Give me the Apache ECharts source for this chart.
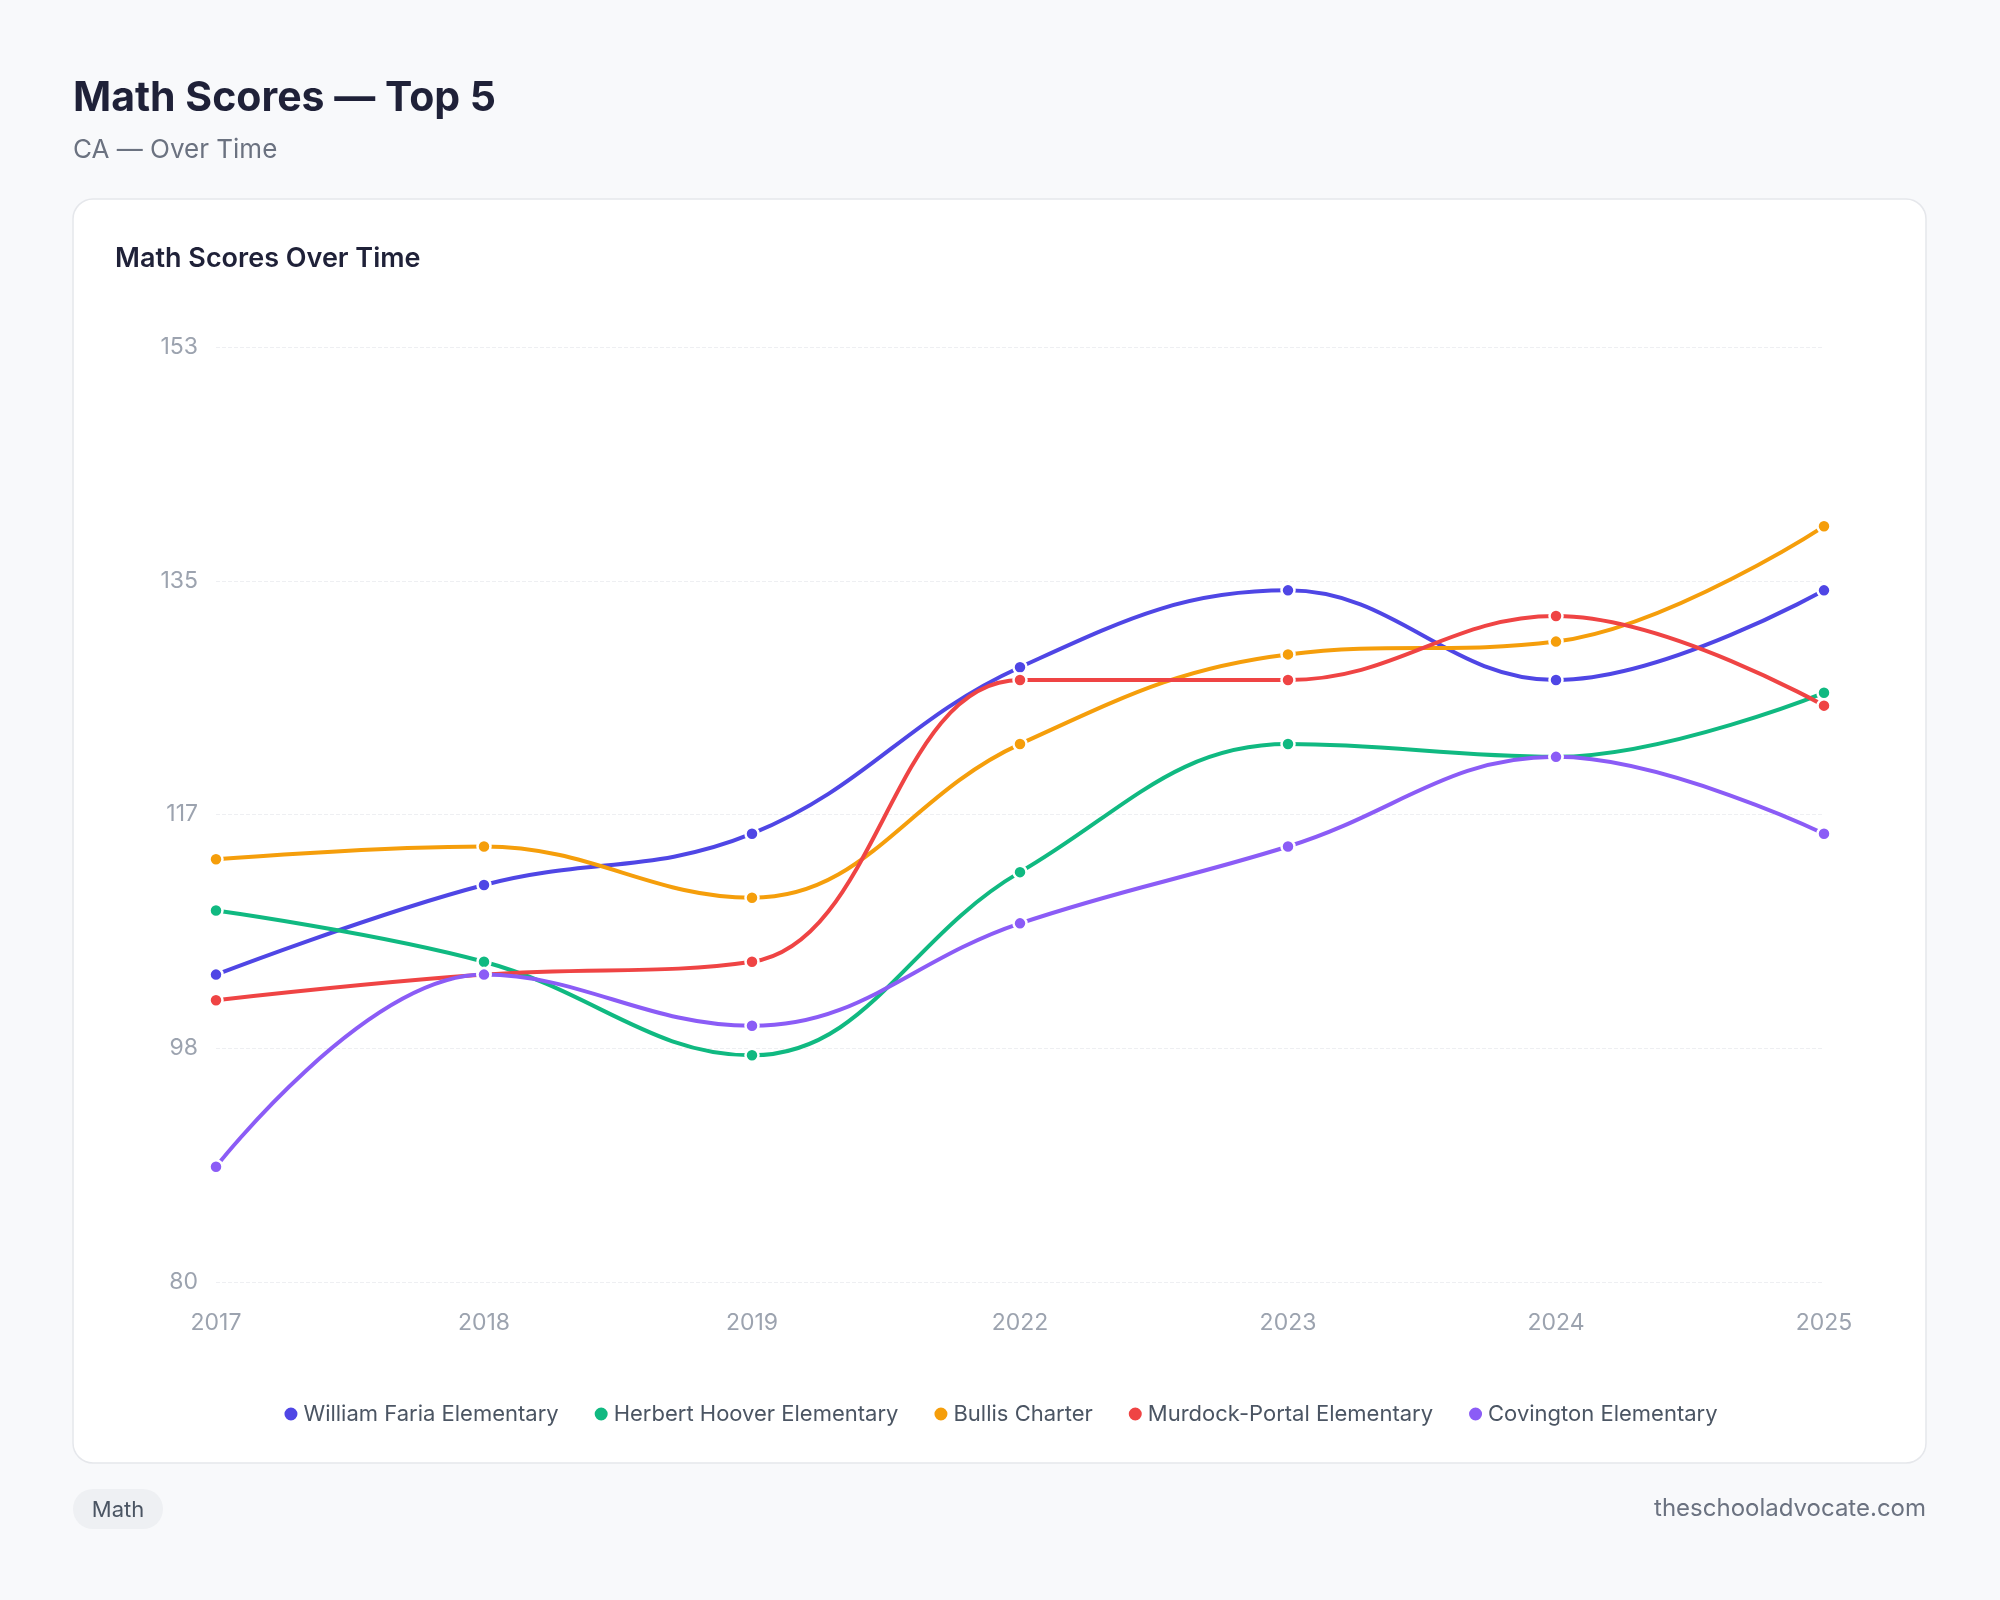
<!DOCTYPE html>
<html><head><meta charset="utf-8">
<script src="https://cdn.jsdelivr.net/npm/echarts@6/dist/echarts.min.js"></script>
<style>html,body{margin:0;padding:0;background:#f8f9fb}#c{width:2000px;height:1600px}</style>
</head><body><div id="c"></div>
<script>
const years = ['2017','2018','2019','2022','2023','2024','2025'];
const faria = [104,111,115,128,134,127,134];
const hoover = [109,105,97.7,112,122,121,126];
const bullis = [113,114,110,122,129,130,139];
const murdock = [102,104,105,127,127,132,125];
const covington = [89,104,100,108,114,121,115];
const names = ['William Faria Elementary','Herbert Hoover Elementary','Bullis Charter','Murdock-Portal Elementary','Covington Elementary'];
const colors = ['#4f46e5','#10b981','#f59e0b','#ef4444','#8b5cf6'];
const data = [faria,hoover,bullis,murdock,covington];
const font = 'Inter, "Noto Sans", sans-serif';
const chart = echarts.init(document.getElementById('c'));
chart.setOption({
  backgroundColor:'#f8f9fb',
  textStyle:{fontFamily:font},
  graphic:[
    {type:'rect',shape:{x:73,y:199,width:1853,height:1264,r:20},style:{fill:'#fff',stroke:'#e5e7eb',lineWidth:1.5},z:-10},
    {type:'text',left:73,top:78,style:{text:'Math Scores — Top 5',font:'bold 41px '+font,fill:'#1f2138'}},
    {type:'text',left:73,top:137,style:{text:'CA — Over Time',font:'26px '+font,fill:'#6b7280'}},
    {type:'text',left:115,top:245,style:{text:'Math Scores Over Time',font:'600 27px '+font,fill:'#1f2138'}},
    {type:'rect',shape:{x:73,y:1489,width:90,height:40,r:20},style:{fill:'#eef0f3'}},
    {type:'text',x:118,y:1510,style:{text:'Math',font:'22px '+font,fill:'#4b5563',align:'center',verticalAlign:'middle'}},
    {type:'text',right:74,top:1497,style:{text:'theschooladvocate.com',font:'24px '+font,fill:'#6b7280'}}
  ],
  grid:{left:216,right:176,top:347,bottom:318},
  legend:{top:1398,left:'center',icon:'circle',itemWidth:15,itemHeight:15,itemGap:34,textStyle:{fontSize:22,color:'#4b5563',fontFamily:font},data:names},
  xAxis:{type:'category',boundaryGap:false,data:years,axisLine:{show:false},axisTick:{show:false},
    axisLabel:{fontSize:23,color:'#9ca3af',margin:30}},
  yAxis:{type:'value',min:80,max:153,interval:18.25,axisLabel:{fontSize:23,color:'#9ca3af',margin:18,formatter:v=>Math.round(v)},
    splitLine:{lineStyle:{color:'#eeeff2',type:'dashed'}}},
  series:data.map((d,i)=>({name:names[i],type:'line',data:d,smooth:0.4,symbol:'circle',symbolSize:13,
    lineStyle:{width:4,color:colors[i]},itemStyle:{color:colors[i],borderColor:'#fff',borderWidth:2.5}}))
});
</script></body></html>
